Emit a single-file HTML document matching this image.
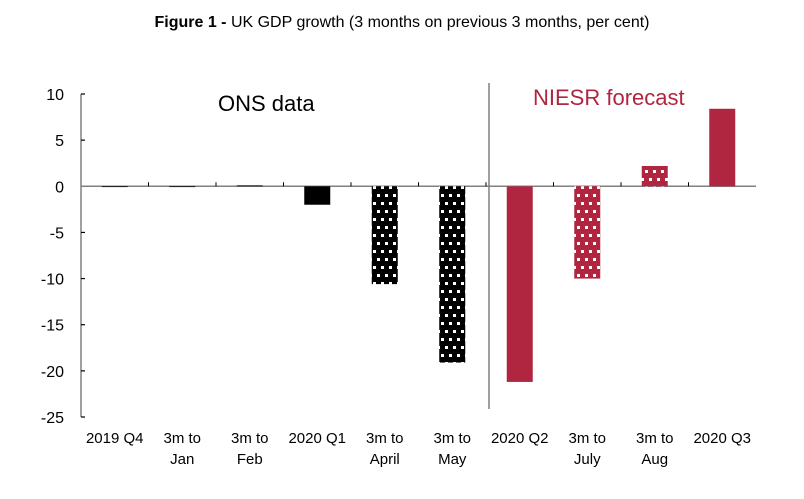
<!DOCTYPE html>
<html><head><meta charset="utf-8"><style>
body{margin:0;background:#fff;width:804px;height:494px;overflow:hidden}
text{font-family:"Liberation Sans",sans-serif}
</style></head><body>
<svg id="chart" width="804" height="494" viewBox="0 0 804 494">
<defs>
<pattern id="dotsBlack" width="8" height="16" patternUnits="userSpaceOnUse">
<rect width="8" height="16" fill="#000"/><rect x="1" y="2" width="3" height="3" fill="#fff"/><rect x="5" y="10" width="3" height="3" fill="#fff"/>
</pattern>
<pattern id="dotsRed" width="8" height="16" patternUnits="userSpaceOnUse">
<rect width="8" height="16" fill="#b02641"/><rect x="1" y="2" width="3" height="3" fill="#fff"/><rect x="5" y="10" width="3" height="3" fill="#fff"/>
</pattern>
</defs>
<text x="402" y="27" text-anchor="middle" font-size="16" fill="#000"><tspan font-weight="bold">Figure 1 - </tspan>UK GDP growth (3 months on previous 3 months, per cent)</text>
<g id="axes"></g><g id="bars"></g>
<text x="218" y="111" font-size="22" fill="#000">ONS data</text>
<text x="533" y="105" font-size="22" fill="#b02641">NIESR forecast</text>
</svg>
<script>
const categories=[["2019 Q4"],["3m to","Jan"],["3m to","Feb"],["2020 Q1"],["3m to","April"],["3m to","May"],["2020 Q2"],["3m to","July"],["3m to","Aug"],["2020 Q3"]];
const values=[0,0,0.1,-2,-10.6,-19.1,-21.2,-10,2.2,8.4];
const fills=["solid","solid","solid","solid","dots","dots","solid","dots","dots","solid"];
const isForecast=[0,0,0,0,0,0,1,1,1,1];
const yTicks=[10,5,0,-5,-10,-15,-20,-25];
const NS="http://www.w3.org/2000/svg";
const L=81,R=756,yMax=10,yMin=-25,T=94,B=417;
const step=(R-L)/categories.length;
const y=v=>T+(yMax-v)/(yMax-yMin)*(B-T);
const xc=i=>L+step*(i+0.5);
function mk(tag,a,p){const e=document.createElementNS(NS,tag);for(const k in a)e.setAttribute(k,a[k]);p.appendChild(e);return e;}
const ax=document.getElementById('axes'),bg=document.getElementById('bars');
const yl=mk('line',{x1:L,x2:L,y1:T,y2:B,stroke:'#808080','stroke-width':1.5},ax);


yTicks.forEach(t=>{
 const tk=mk('line',{x1:L,x2:L+4,y1:y(t),y2:y(t),stroke:'#000','stroke-width':1.2},ax);
 
 
 const tx=mk('text',{x:L-17,y:y(t)+6,'text-anchor':'end','font-size':16,fill:'#000'},ax);
 tx.textContent=t;
 
 
});
const zl=mk('line',{x1:L,x2:R,y1:y(0),y2:y(0),stroke:'#808080','stroke-width':1.5},ax);


for(let i=1;i<categories.length;i++){
 const tk=mk('line',{x1:L+step*i,x2:L+step*i,y1:y(0)-4,y2:y(0),stroke:'#000','stroke-width':1},ax);
 
 
}
const dv=mk('line',{x1:489,x2:489,y1:83,y2:409,stroke:'#808080','stroke-width':1.5},ax);


categories.forEach((c,i)=>{
 c.forEach((ln,j)=>{
  const tx=mk('text',{x:xc(i),y:443+j*21,'text-anchor':'middle','font-size':15,fill:'#000'},ax);
  tx.textContent=ln;
  
  
 });
});
values.forEach((v,i)=>{
 const col=isForecast[i]?'#b02641':'#000';
 const f=fills[i]==='dots'?(isForecast[i]?'url(#dotsRed)':'url(#dotsBlack)'):col;
 const y0=Math.min(y(v),y(0)),h=Math.max(Math.abs(y(v)-y(0)),0.8);
 const r=mk('rect',{x:xc(i)-13,y:y0,width:26,height:h,fill:f},bg);
 
 
});
</script>
</body></html>
